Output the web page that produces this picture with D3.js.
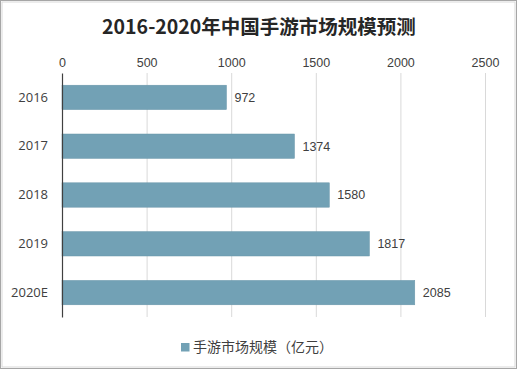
<!DOCTYPE html>
<html><head><meta charset="utf-8">
<script src="https://cdn.jsdelivr.net/npm/d3@7"></script>
<style>body{margin:0;background:#fff}svg{display:block}</style>
</head><body><svg id="c" width="517" height="369"></svg>
<script>
const categories = ["2016","2017","2018","2019","2020E"];
const values = [972,1374,1580,1817,2085];
const tickValues = [0,500,1000,1500,2000,2500];
const title = "2016-2020年中国手游市场规模预测";
const seriesName = "手游市场规模（亿元）";

(function(){
const svg = d3.select("#c");
const W=517,H=369;
svg.append("rect").attr("x",0.5).attr("y",0.5).attr("width",W-1).attr("height",H-1)
  .attr("fill","#fff").attr("stroke","#a6a6a6").attr("stroke-width",1);
svg.append("rect").attr("x",2).attr("y",2).attr("width",W-4).attr("height",H-4)
  .attr("fill","none").attr("stroke","#d9d9d9").attr("stroke-width",1);

const pL=62,pR=485,pT=73,pB=317;
const x=d3.scaleLinear().domain([0,2500]).range([pL,pR]);
const y=d3.scaleBand().domain(categories).range([pT,pB]).paddingInner(0.5).paddingOuter(0.25);

svg.append("text").attr("x",W/2+0.5).attr("y",34).attr("text-anchor","middle")
  .attr("font-family","'Noto Sans CJK SC',sans-serif").attr("font-weight","bold")
  .attr("font-size",19.5).attr("fill","#262626").text(title);

svg.append("g").selectAll("line").data(tickValues.slice(1)).join("line")
  .attr("x1",d=>x(d)+0.5).attr("x2",d=>x(d)+0.5).attr("y1",pT).attr("y2",pB)
  .attr("stroke","#d9d9d9").attr("stroke-width",1);

const xa=svg.append("g").attr("transform",`translate(0,${pT-6})`)
  .call(d3.axisTop(x).tickValues(tickValues).tickFormat(d3.format("d")).tickSize(0).tickPadding(0));
xa.select(".domain").remove();
xa.selectAll("text").attr("font-family","'Liberation Sans',Arial,sans-serif").attr("font-size",12.5).attr("fill","#404040");

svg.append("g").selectAll("rect").data(values).join("rect")
  .attr("x",x(0)).attr("y",(d,i)=>y(categories[i]))
  .attr("width",d=>x(d)-x(0)).attr("height",y.bandwidth())
  .attr("fill","#72A1B5").attr("stroke","#6996a9").attr("stroke-width",0.5);

svg.append("g").selectAll("text").data(values).join("text")
  .attr("x",d=>x(d)+8).attr("y",(d,i)=>y(categories[i])+y.bandwidth()/2)
  .attr("dy","0.35em").attr("font-family","'Liberation Sans',Arial,sans-serif")
  .attr("font-size",12.5).attr("fill","#404040").text(d=>d);

const ya=svg.append("g").attr("transform",`translate(${pL},0)`)
  .call(d3.axisLeft(y).tickSize(0).tickPadding(14));
ya.select(".domain").attr("stroke","#404040").attr("stroke-width",1.2);
ya.selectAll("text").attr("font-family","'Open Sans',sans-serif").attr("font-size",13).attr("fill","#404040");

const lg=svg.append("g");
lg.append("rect").attr("x",181).attr("y",343).attr("width",8.5).attr("height",8.5).attr("fill","#72A1B5");
lg.append("text").attr("x",193).attr("y",347.5).attr("dy","0.35em")
  .attr("font-family","'Noto Sans CJK SC',sans-serif").attr("font-size",14).attr("fill","#404040").text(seriesName);
})();
</script></body></html>
